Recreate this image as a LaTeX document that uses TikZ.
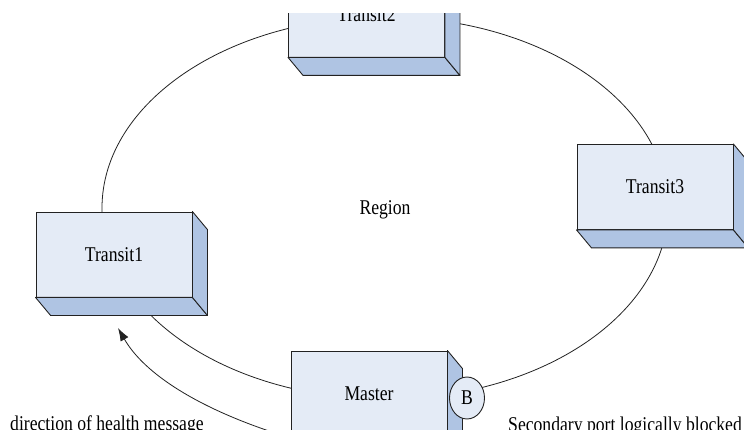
\documentclass[tikz,border=0pt]{standalone}
\usepackage{fontspec}
\setmainfont[FakeStretch=0.84]{Liberation Serif}
\usetikzlibrary{arrows.meta,calc,shapes.geometric}
\definecolor{frontc}{HTML}{E4EBF6}
\definecolor{sidec}{HTML}{AFC4E3}
\definecolor{edgec}{HTML}{222222}
\tikzset{
  txt/.style={font=\fontsize{21}{25}\selectfont, inner sep=0pt},
  boxnode/.style={txt, draw=edgec, fill=frontc, line width=0.9pt, minimum width=156pt, minimum height=85pt, text height=14pt, text depth=0pt},
  face/.style={fill=sidec, draw=edgec, line width=0.9pt, line join=round},
  ring/.style={draw=edgec, line width=0.8pt},
  flow/.style={draw=edgec, line width=0.8pt, -{Latex[length=13pt,width=9pt]}}
}
\newcommand{\threedbox}[1]{%
  \draw[face] (#1.south west) -- (#1.south east) -- ++(15,18) -- ($(#1.south west)+(15,18)$) -- cycle;
  \draw[face] (#1.north east) -- ++(15,18) -- ($(#1.south east)+(15,18)$) -- (#1.south east) -- cycle;
}
\begin{document}
\begin{tikzpicture}[x=1pt,y=-1pt]
\useasboundingbox (0,0) rectangle (744,430);
\clip (0,14) rectangle (744,430);
% ring
\draw[ring] (385,208) ellipse [x radius=283, y radius=191];
% boxes
\node[boxnode] (t2) at (366.5,14.5) {Transit2};
\threedbox{t2}
\node[boxnode] (t3) at (655,187) {Transit3};
\threedbox{t3}
\node[boxnode] (t1) at (114,254.5) {Transit1};
\threedbox{t1}
\node[boxnode] (m) at (369,393.5) {Master};
\threedbox{m}
\node[txt, draw=edgec, fill=frontc, line width=0.9pt, ellipse, minimum width=35pt, minimum height=42pt] (b) at (467,398) {B};
% labels
\node[txt] (region) at (385,210) {Region};
\node[txt, anchor=base west] (dir) at (10,430) {direction of health message};
\node[txt, anchor=base west] (sec) at (508,431) {Secondary port logically blocked};
% arrow
\coordinate (as) at (272,432);
\coordinate (ae) at (118,328);
\draw[flow] (as) .. controls (200,408) and (145,375) .. (ae);
\end{tikzpicture}
\end{document}
